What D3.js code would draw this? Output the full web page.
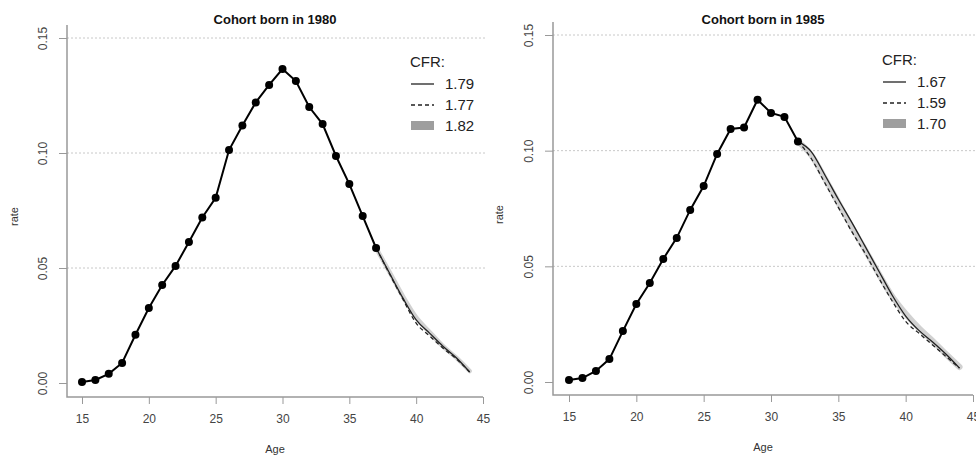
<!DOCTYPE html>
<html><head><meta charset="utf-8">
<script src="https://cdn.jsdelivr.net/npm/d3@7"></script>
<style>body{margin:0;background:#fff}svg{display:block}text{font-family:"Liberation Sans",Arial,sans-serif}</style>
</head><body><svg id="c" width="976" height="459"></svg>
<script>
const ages80 = [15,16,17,18,19,20,21,22,23,24,25,26,27,28,29,30,31,32,33,34,35,36,37];
const obs80 = [0.0004,0.0013,0.004,0.0087,0.021,0.0326,0.0426,0.0509,0.0613,0.072,0.0805,0.1013,0.112,0.122,0.1296,0.1365,0.1313,0.120,0.1126,0.0987,0.0865,0.0726,0.0587];
const projAges80 = [37,38,39,40,41,42,43,44];
const solid80 = [0.0587,0.0478,0.037,0.0274,0.0217,0.016,0.011,0.0048];
const dashed80 = [0.0587,0.0475,0.0365,0.026,0.0205,0.0152,0.0105,0.0048];
const gray80 = [0.0587,0.0483,0.0378,0.0285,0.0222,0.016,0.011,0.0052];
const cfr80 = ["1.79","1.77","1.82"];

const ages85 = [15,16,17,18,19,20,21,22,23,24,25,26,27,28,29,30,31,32];
const obs85 = [0.0009,0.0017,0.0048,0.0099,0.022,0.0337,0.0428,0.0532,0.0623,0.0744,0.0847,0.0986,0.1094,0.110,0.122,0.1163,0.1146,0.104];
const projAges85 = [32,33,34,35,36,37,38,39,40,41,42,43,44];
const solid85 = [0.104,0.0995,0.0895,0.079,0.069,0.0585,0.048,0.0375,0.0285,0.0222,0.0173,0.012,0.006];
const dashed85 = [0.104,0.0965,0.086,0.0755,0.065,0.0555,0.045,0.035,0.0262,0.021,0.016,0.011,0.006];
const gray85 = [0.104,0.098,0.088,0.0775,0.067,0.057,0.0468,0.037,0.0295,0.0232,0.0178,0.012,0.0065];
const cfr85 = ["1.67","1.59","1.70"];

const xTicks = [15,20,25,30,35,40,45];
const yTicks = [0,0.05,0.10,0.15];
const yTickLabels = ["0.00","0.05","0.10","0.15"];

const svg = d3.select("#c");

function panel(o){
  const g = svg.append("g");
  const x = d3.scaleLinear().domain([15,45]).range([o.x0,o.x1]);
  const y = d3.scaleLinear().domain([0,0.15]).range([o.y0,o.y1]);
  g.selectAll(".grid").data(yTicks.slice(1)).join("line")
    .attr("x1",o.ax).attr("x2",o.gridEnd).attr("y1",d=>y(d)).attr("y2",d=>y(d))
    .attr("stroke","#c8c8c8").attr("stroke-width",1).attr("stroke-dasharray","2,2");
  const yAx = g.append("g").attr("transform",`translate(${o.ax},0)`)
    .call(d3.axisLeft(y).tickValues(yTicks).tickFormat((d,i)=>yTickLabels[i]).tickSize(8).tickSizeOuter(0));
  yAx.select(".domain").remove();
  yAx.selectAll("line").attr("stroke","#999");
  yAx.selectAll("text").attr("x",0).attr("dy","0.35em").attr("text-anchor","middle").attr("fill","#444").style("font-size","12px")
    .attr("transform",`translate(${o.ylabX-o.ax},0) rotate(-90)`);
  const xAx = g.append("g").attr("transform",`translate(0,${o.axY})`)
    .call(d3.axisBottom(x).tickValues(xTicks).tickFormat(d3.format("d")).tickSize(7).tickSizeOuter(0));
  xAx.select(".domain").remove();
  xAx.selectAll("line").attr("stroke","#999");
  xAx.selectAll("text").attr("y",17).attr("fill","#444").style("font-size","12px");
  g.append("path").attr("d",`M${o.ax},${o.axTop}V${o.axY}H${x(45)}`)
    .attr("fill","none").attr("stroke","#999").attr("stroke-width",1.5);
  g.append("text").attr("x",(o.ax+x(45))/2).attr("y",o.axY+56).attr("text-anchor","middle")
    .style("font-size","11px").attr("fill","#333").text("Age");
  g.append("text").attr("transform",`translate(${o.rateX},${(o.y0+o.y1)/2+6}) rotate(-90)`)
    .attr("text-anchor","middle").style("font-size","11px").attr("fill","#333").text("rate");
  g.append("text").attr("x",(o.ax+x(45))/2).attr("y",o.titleY).attr("text-anchor","middle")
    .style("font-size","13px").style("font-weight","bold").attr("fill","#111").text(o.title);
  const line = d3.line().x((d,i)=>x(o.projAges[i])).y(d=>y(d)).curve(d3.curveMonotoneX);
  g.append("path").attr("d",line(o.gray)).attr("fill","none").attr("stroke","#bdbdbd")
    .attr("stroke-opacity",0.7).attr("stroke-width",o.grayW).attr("stroke-linejoin","round").attr("stroke-linecap","round");
  g.append("path").attr("d",line(o.dashed)).attr("fill","none").attr("stroke","#222")
    .attr("stroke-width",1.3).attr("stroke-dasharray","4,3");
  g.append("path").attr("d",line(o.solid)).attr("fill","none").attr("stroke","#222").attr("stroke-width",1.3);
  const l2 = d3.line().x((d,i)=>x(o.ages[i])).y(d=>y(d));
  g.append("path").attr("d",l2(o.obs)).attr("fill","none").attr("stroke","#000").attr("stroke-width",2);
  g.selectAll(".pt").data(o.obs).join("circle").attr("cx",(d,i)=>x(o.ages[i])).attr("cy",d=>y(d))
    .attr("r",4).attr("fill","#000");
  const L = g.append("g").attr("transform",`translate(${o.legX},${o.legY})`);
  L.append("text").attr("x",0).attr("y",0).style("font-size","15px").attr("fill","#222").text("CFR:");
  const rows=[22,43,64];
  L.append("line").attr("x1",1).attr("x2",24).attr("y1",rows[0]-5).attr("y2",rows[0]-5).attr("stroke","#222").attr("stroke-width",1.3);
  L.append("line").attr("x1",1).attr("x2",24).attr("y1",rows[1]-5).attr("y2",rows[1]-5).attr("stroke","#222").attr("stroke-width",1.3).attr("stroke-dasharray","4,3");
  L.append("rect").attr("x",1).attr("y",rows[2]-10).attr("width",23).attr("height",9).attr("fill","#9e9e9e");
  L.selectAll(".lt").data(o.cfr).join("text").attr("x",35).attr("y",(d,i)=>rows[i])
    .style("font-size","15px").attr("fill","#222").text(d=>d);
}

panel({x0:82,x1:483,y0:383,y1:38,ax:67,axY:397,axTop:25,gridEnd:487,ylabX:43,rateX:18,titleY:24,grayW:4.5,
  title:"Cohort born in 1980",ages:ages80,obs:obs80,projAges:projAges80,solid:solid80,dashed:dashed80,gray:gray80,
  cfr:cfr80,legX:410,legY:67});
panel({x0:569,x1:973,y0:382,y1:35,ax:553,axY:395,axTop:22,gridEnd:976,ylabX:529,rateX:503,titleY:24,grayW:6,
  title:"Cohort born in 1985",ages:ages85,obs:obs85,projAges:projAges85,solid:solid85,dashed:dashed85,gray:gray85,
  cfr:cfr85,legX:882,legY:65});
</script></body></html>
